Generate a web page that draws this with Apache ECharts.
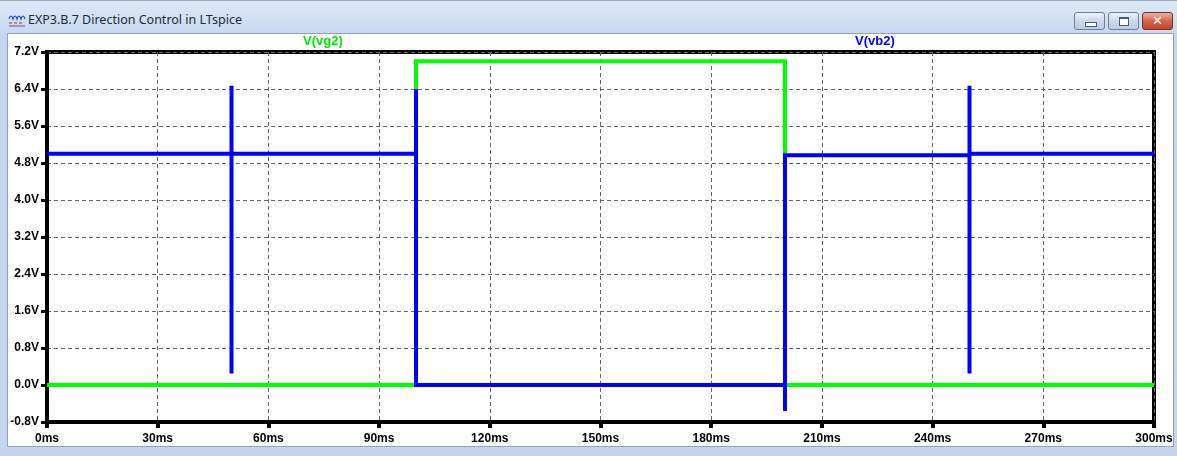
<!DOCTYPE html>
<html><head><meta charset="utf-8">
<script src="https://cdn.jsdelivr.net/npm/echarts@6/dist/echarts.min.js"></script>
<style>
html,body{margin:0;padding:0;width:1177px;height:456px;overflow:hidden;background:#c3d6ee;}
#titlebar{position:absolute;left:0;top:0;width:1177px;height:33px;background:linear-gradient(#dfe9f6,#c6d9f0);border-top:1px solid #9aa9bd;box-sizing:border-box;}
#ttext{position:absolute;left:28px;top:10px;font-family:"Noto Sans",sans-serif;font-size:12.5px;color:#1e2a3a;white-space:nowrap;}
#icon{position:absolute;left:8px;top:11px;}
#inner{position:absolute;left:7px;top:33px;width:1167px;height:414px;background:#fff;border:1px solid #8fa3bf;box-sizing:border-box;}
.btn{position:absolute;top:11px;height:18px;width:31px;border:1px solid #6b7f9c;border-radius:3px;box-sizing:border-box;background:linear-gradient(#eef3fa,#cbd9ec 50%,#bccde5);}
#bmin{left:1074px}#bmax{left:1108px}
#bclose{left:1142px;background:linear-gradient(#eab3a5,#d3664c 50%,#c0452c);border-color:#7a2e22;color:#fff;font:bold 13px "DejaVu Sans",sans-serif;text-align:center;line-height:16px;}
#gmin{position:absolute;left:10px;top:9px;width:10px;height:3px;background:#fff;border:1px solid #4a5a72;}
#gmax{position:absolute;left:10px;top:4px;width:8px;height:6px;background:#fff;border:1px solid #4a5a72;border-top-width:2px;}
#chart{position:absolute;left:0;top:0;width:1177px;height:456px;}
</style></head>
<body>
<div id="titlebar">
<svg id="icon" width="18" height="15" viewBox="0 0 18 15"><path d="M1 7 Q3 1 5 7 Q7 1 9 7 Q11 1 13 7 Q15 1 17 7" stroke="#2050c0" fill="none" stroke-width="1.2"/><path d="M1 11 H4 M6 11 H9 M11 11 H14" stroke="#d02020" stroke-width="1.2"/><path d="M1 14 H17" stroke="#606060" stroke-width="1"/></svg>
<div id="ttext">EXP3.B.7 Direction Control in LTspice</div>
<div class="btn" id="bmin"><div id="gmin"></div></div>
<div class="btn" id="bmax"><div id="gmax"></div></div>
<div class="btn" id="bclose">✕</div>
</div>
<div id="inner"></div>
<div id="chart"></div>
<script>
// Time axis (ms) and voltage axis (V)
const xTicks = [0, 30, 60, 90, 120, 150, 180, 210, 240, 270, 300];
const yTicks = [-0.8, 0.0, 0.8, 1.6, 2.4, 3.2, 4.0, 4.8, 5.6, 6.4, 7.2];
const seriesNames = ['V(vg2)', 'V(vb2)'];

// V(vg2) waveform: [time ms, volts]
const vg2Time = [0, 100, 100, 200, 200, 300];
const vg2Volt = [0.0, 0.0, 7.0, 7.0, 0.0, 0.0];

// V(vb2) waveform: [time ms, volts]
const vb2Time = [0, 50, 50, 50, 50, 100, 100, 100, 200, 200, 200, 250, 250, 250, 250, 300];
const vb2Volt = [5.0, 5.0, 0.25, 6.47, 5.0, 5.0, 6.4, 0.0, 0.0, -0.56, 4.97, 4.97, 0.25, 6.47, 5.0, 5.0];

const zip = (t, v) => t.map((x, i) => [x, v[i]]);

const chart = echarts.init(document.getElementById('chart'), null, {renderer: 'canvas'});
const labelFont = {fontFamily: 'Liberation Sans, Arial, sans-serif', fontWeight: 'bold', fontSize: 12, color: '#000'};
const legendFont = {fontSize: 13, fontWeight: 'bold', fontFamily: 'Liberation Sans, Arial, sans-serif'};
chart.setOption({
  backgroundColor: 'transparent',
  animation: false,
  title: [
    {text: seriesNames[0], left: 303, top: 35, padding: 0, textStyle: Object.assign({color: '#00e800'}, legendFont)},
    {text: seriesNames[1], left: 855, top: 35, padding: 0, textStyle: Object.assign({color: '#0000ff'}, legendFont)}
  ],
  grid: {left: 47, right: 23, top: 52, bottom: 34, show: true, borderColor: '#000', borderWidth: 4, backgroundColor: 'transparent'},
  xAxis: {
    type: 'value', min: xTicks[0], max: xTicks[xTicks.length - 1], interval: xTicks[1] - xTicks[0],
    axisLine: {show: true, onZero: false, lineStyle: {color: '#000', width: 4}},
    axisTick: {show: true, length: 6, lineStyle: {color: '#000', width: 4}},
    axisLabel: Object.assign({margin: 11, formatter: v => v + 'ms', showMinLabel: true, showMaxLabel: true}, labelFont),
    splitLine: {show: true, lineStyle: {color: '#666', width: 1, type: [4, 3]}}
  },
  yAxis: {
    type: 'value', min: yTicks[0], max: yTicks[yTicks.length - 1], interval: 0.8,
    axisLine: {show: true, onZero: false, lineStyle: {color: '#000', width: 4}},
    axisTick: {show: true, length: 6, lineStyle: {color: '#000', width: 3}},
    axisLabel: Object.assign({margin: 8, formatter: v => (Math.abs(v) < 1e-9 ? 0 : v).toFixed(1) + 'V', showMinLabel: true, showMaxLabel: true}, labelFont),
    splitLine: {show: true, lineStyle: {color: '#666', width: 1, type: [4, 3]}}
  },
  series: [
    {name: seriesNames[0], type: 'line', data: zip(vg2Time, vg2Volt), showSymbol: false, symbol: 'none',
     lineStyle: {color: '#00ff00', width: 4, join: 'miter', cap: 'butt'}, z: 3},
    {name: seriesNames[1], type: 'line', data: zip(vb2Time, vb2Volt), showSymbol: false, symbol: 'none',
     lineStyle: {color: '#0000ff', width: 4, join: 'miter', cap: 'butt'}, z: 4}
  ]
});
</script>
</body></html>
